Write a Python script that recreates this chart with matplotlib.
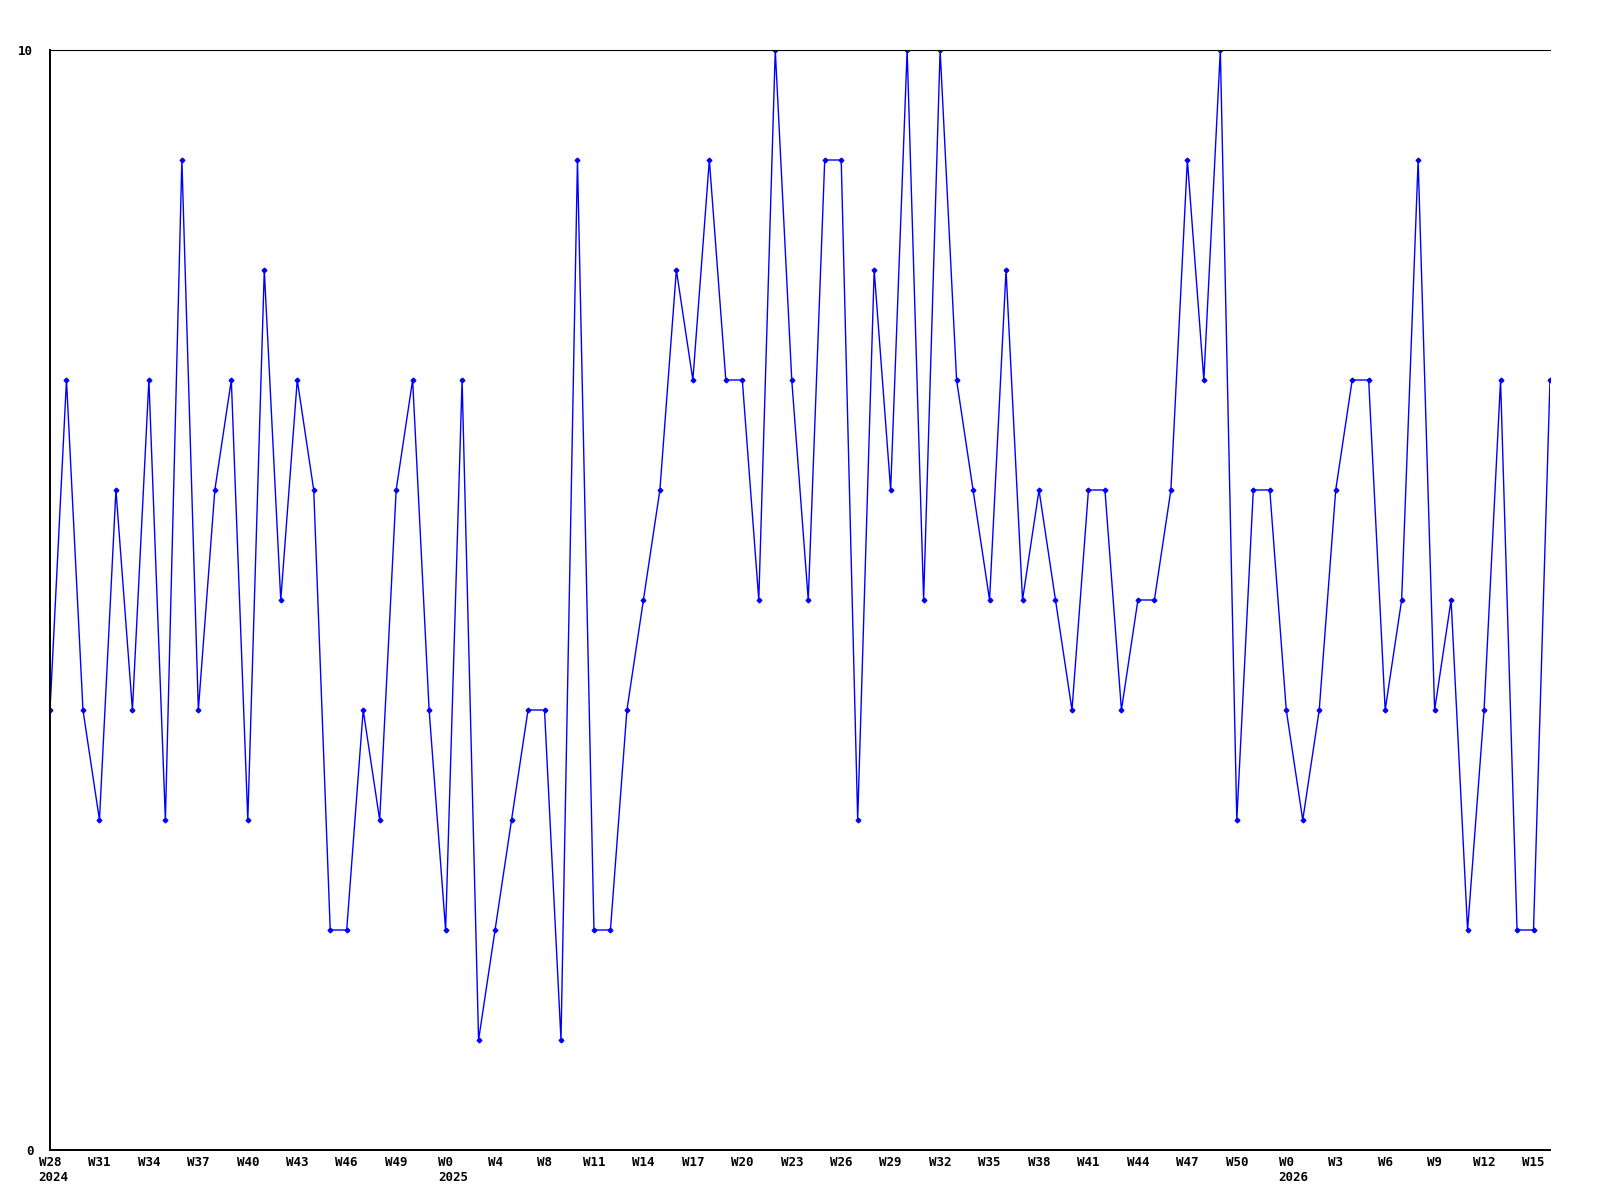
import matplotlib
matplotlib.use("Agg")
import matplotlib.pyplot as plt
from matplotlib.transforms import ScaledTranslation, blended_transform_factory

values = [4, 7, 4, 3, 6, 4, 7, 3, 9, 4, 6, 7, 3, 8, 5, 7, 6, 2, 2, 4, 3, 6, 7, 4,
          2, 7, 1, 2, 3, 4, 4, 1, 9, 2, 2, 4, 5, 6, 8, 7, 9, 7, 7, 5, 10, 7, 5, 9,
          9, 3, 8, 6, 10, 5, 10, 7, 6, 5, 8, 5, 6, 5, 4, 6, 6, 4, 5, 5, 6, 9, 7, 10,
          3, 6, 6, 4, 3, 4, 6, 7, 7, 4, 5, 9, 4, 5, 2, 4, 7, 2, 2, 7]
tick_labels = ["W28", "W31", "W34", "W37", "W40", "W43", "W46", "W49",
               "W0", "W4", "W8", "W11", "W14", "W17", "W20", "W23", "W26", "W29",
               "W32", "W35", "W38", "W41", "W44", "W47", "W50",
               "W0", "W3", "W6", "W9", "W12", "W15"]
year_labels = {0: "2024", 8: "2025", 25: "2026"}  # tick index -> year
y_ticks = [0, 10]

FS = 9
FONT = dict(family="DejaVu Sans Mono", weight="bold", size=FS)

fig = plt.figure(figsize=(16, 12), dpi=100)
ax = fig.add_axes([50 / 1600, 1 - 1150 / 1200, 1500 / 1600, 1100 / 1200])

x = list(range(len(values)))
ax.plot(x, values, color="#0000FF", lw=1.0, marker="D", ms=2.4,
        mec="#0000FF", mfc="#0000FF")

ax.set_xlim(0, len(values) - 1)
ax.set_ylim(0, 10)

tick_pos = list(range(0, len(values), 3))[:len(tick_labels)]
ax.set_xticks(tick_pos)
ax.set_xticklabels(tick_labels, **FONT)
ax.set_yticks(y_ticks)
ax.set_yticklabels([str(v) for v in y_ticks], **FONT)
ax.tick_params(axis="x", length=0, pad=4)
ax.tick_params(axis="y", length=0, pad=12)

for s in ["left", "bottom"]:
    ax.spines[s].set_linewidth(1.4)
ax.spines["top"].set_linewidth(0.8)
ax.spines["right"].set_visible(False)

trans_base = blended_transform_factory(ax.transData, ax.transAxes)
for ti, yr in year_labels.items():
    w = tick_labels[ti]
    dx = -len(w) * 0.602 * FS / 2 / 72
    tr = trans_base + ScaledTranslation(dx, -15 / 72, fig.dpi_scale_trans)
    ax.text(tick_pos[ti], 0, yr, transform=tr, ha="left", va="top", **FONT)

fig.savefig("out.png", dpi=100)
